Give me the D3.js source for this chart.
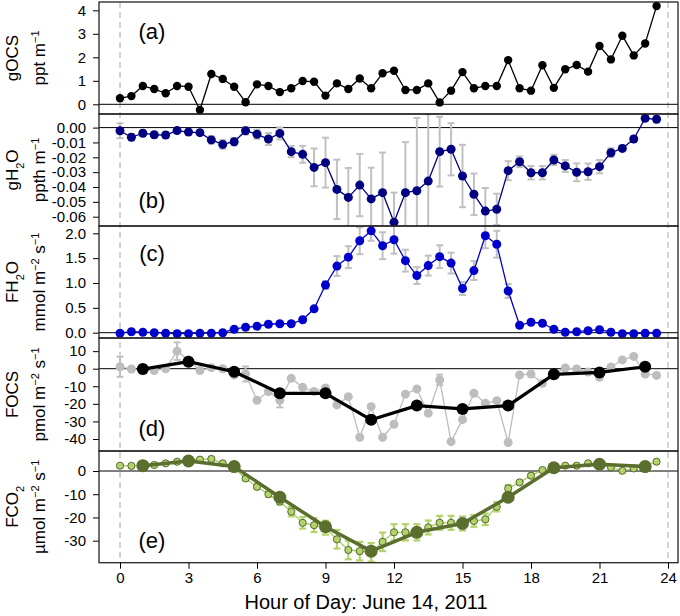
<!DOCTYPE html>
<html>
<head>
<meta charset="utf-8">
<script src="https://cdn.jsdelivr.net/npm/d3@7"></script>
<style>
  body { margin: 0; background: #fff; }
  text { font-family: "Liberation Sans", Arial, sans-serif; }
</style>
</head>
<body>
<div id="chart"></div>
<script>
// half-hourly time stamps and hourly (odd hour) stamps
var halfHours = d3.range(48).map(function (i) { return i / 2; });
var oddHours = [1, 3, 5, 7, 9, 11, 13, 15, 17, 19, 21, 23];
var hourTicks = [0, 3, 6, 9, 12, 15, 18, 21, 24];

// (a) gOCS, ppt m-1
var gOCS = [0.26, 0.35, 0.78, 0.65, 0.47, 0.78, 0.75, -0.24, 1.29, 1.08,
  0.75, 0.09, 0.85, 0.78, 0.52, 0.68, 0.99, 0.96, 0.37, 0.89,
  0.65, 1.10, 0.68, 1.32, 1.43, 0.61, 0.61, 0.89, 0.08, 0.58,
  1.37, 0.68, 0.78, 0.78, 1.88, 0.68, 0.58, 1.66, 0.70, 1.49,
  1.67, 1.39, 2.48, 1.91, 2.92, 2.08, 2.59, 4.18];

// (b) gH2O, ppth m-1, with error half-widths
var gH2O = [-0.0021, -0.0065, -0.0038, -0.0048, -0.0050, -0.0020, -0.0030, -0.0034, -0.0083, -0.0113,
  -0.0095, -0.0021, -0.0045, -0.0077, -0.0039, -0.0162, -0.0180, -0.0268, -0.0236, -0.0416,
  -0.0470, -0.0387, -0.0480, -0.0438, -0.0638, -0.0438, -0.0425, -0.0360, -0.0162, -0.0146,
  -0.0326, -0.0449, -0.0562, -0.0550, -0.0290, -0.0230, -0.0304, -0.0304, -0.0218, -0.0258,
  -0.0301, -0.0297, -0.0263, -0.0169, -0.0140, -0.0077, 0.0063, 0.0056];
var gH2Oerr = [0.005, 0.002, 0.002, 0.002, 0.002, 0.001, 0.001, 0.001, 0.0025, 0.003,
  0.0025, 0.0025, 0.003, 0.004, 0.004, 0.0037, 0.0057, 0.0127, 0.0168, 0.020,
  0.0198, 0.021, 0.021, 0.027, 0.020, 0.034, 0.049, 0.045, 0.0235, 0.0176,
  0.021, 0.014, 0.0155, 0.0105, 0.0064, 0.0036, 0.0045, 0.0045, 0.0035, 0.004,
  0.006, 0.0055, 0.0045, 0.003, 0.002, 0.002, 0.0015, 0.002];

// (c) FH2O, mmol m-2 s-1
var fH2O = [-0.01, 0.02, 0.01, 0.00, -0.01, -0.02, -0.02, -0.01, -0.01, 0.00,
  0.07, 0.11, 0.13, 0.17, 0.18, 0.18, 0.26, 0.48, 0.96, 1.34,
  1.52, 1.85, 2.05, 1.75, 1.87, 1.45, 1.15, 1.35, 1.53, 1.40,
  0.89, 1.25, 1.95, 1.78, 0.84, 0.15, 0.21, 0.19, 0.07, 0.01,
  0.02, 0.04, 0.06, 0.01, -0.02, -0.02, -0.01, -0.01];
var fH2Oerr = [0, 0, 0, 0, 0, 0, 0, 0, 0, 0,
  0.01, 0.01, 0.01, 0.01, 0.01, 0.01, 0.02, 0.04, 0.08, 0.2,
  0.22, 0.27, 0.2, 0.27, 0.28, 0.22, 0.17, 0.2, 0.23, 0.21,
  0.13, 0.19, 0.25, 0.27, 0.14, 0.03, 0.03, 0.03, 0.01, 0.01,
  0.01, 0.01, 0.01, 0.01, 0.01, 0.01, 0.01, 0.01];

// (d) FOCS, pmol m-2 s-1: half-hourly (grey) and hourly means (black)
var fOCS = [1.1, -0.2, -1.0, -1.0, 0.0, 10.0, 5.0, -1.0, 0.6, 0.0,
  -3.6, -3.0, -18.0, -13.0, -18.0, -5.5, -10.6, -13.0, -11.0, -20.6,
  -15.9, -39.0, -21.6, -39.0, -31.6, -14.5, -11.5, -25.3, -6.4, -41.5,
  -29.0, -14.0, -19.7, -18.2, -42.0, -3.6, -3.0, -8.3, -3.2, 0.4,
  -0.2, -1.9, -4.9, 1.0, 5.0, 7.0, -3.0, -3.8];
var fOCSerr = [5.7, 0, 0, 0, 0, 5, 0, 0, 0, 0,
  0, 4.3, 0, 0, 4, 0, 0, 0, 0, 0,
  0, 0, 0, 0, 0, 0, 0, 0, 3, 0,
  0, 0, 0, 0, 0, 0, 0, 0, 0, 0,
  0, 0, 0, 0, 0, 0, 0, 0];
var fOCShourly = [-0.2, 4.0, -1.7, -14.0, -14.0, -29.1, -21.0, -22.9, -21.0, -3.2, -2.1, 1.1];
var fOCShourlyErr = [2.5, 3, 1.5, 1.5, 1.5, 1.5, 1.5, 1.5, 1.5, 1.5, 1.5, 1.5];

// (e) FCO2, umol m-2 s-1: half-hourly (light) and hourly means (dark)
var fCO2 = [2.3, 2.2, 2.7, 2.6, 3.3, 4.0, 5.0, 4.9, 5.2, 3.3,
  1.2, -3.2, -6.8, -10.0, -13.2, -17.5, -22.3, -23.3, -24.4, -29.4,
  -34.0, -34.5, -35.0, -30.5, -26.4, -26.4, -26.4, -24.3, -22.3, -22.3,
  -22.6, -21.5, -20.8, -15.4, -7.5, -4.9, -2.0, 0.4, 1.4, 2.3,
  2.3, 3.3, 3.3, 1.6, 0.1, 1.1, 2.3, 4.0];
var fCO2err = [0, 0, 0, 0, 0, 0, 0, 0, 0, 0,
  0, 0.8, 1, 1, 1.2, 2, 2.5, 3, 3, 4,
  4, 4, 4, 4, 3.5, 3.5, 3.5, 3, 3, 3,
  3, 2.5, 2.5, 2, 1.5, 0, 0, 0, 0, 0,
  0, 0, 0, 0, 0, 0, 0, 0];
var fCO2hourly = [2.3, 4.3, 1.9, -11.3, -24.0, -34.5, -26.4, -22.6, -11.3, 1.4, 2.9, 1.9];

var W = 680, H = 616;
var svg = d3.select("#chart").append("svg")
    .attr("width", W).attr("height", H);

var frameL = 99, frameR = 678;
var x = d3.scaleLinear().domain([0, 24]).range([120, 668]);

// plain hyphen minus like the original
function hy(f) { return function (d) { return f(d).replace("\u2212", "-"); }; }

// panel layout (pixel frame + two reference values for the y scale)
var panels = [
  {id: "a", top: 2, bot: 114, dom: [0, 4], rng: [104.3, 10.3], ticks: [0, 1, 2, 3, 4], fmt: hy(d3.format("d")),
   lab1: [["gOCS"]], lab2: [["ppt m"], ["−1", "sup"]], tag: "(a)", tagY: 39},
  {id: "b", top: 114, bot: 226, dom: [0, -0.06], rng: [127.6, 216.7], ticks: [0, -0.01, -0.02, -0.03, -0.04, -0.05, -0.06], fmt: hy(d3.format(".2f")),
   lab1: [["gH"], ["2", "sub"], ["O"]], lab2: [["ppth m"], ["−1", "sup"]], tag: "(b)", tagY: 208},
  {id: "c", top: 226, bot: 338, dom: [0, 2], rng: [332.7, 233.3], ticks: [0, 0.5, 1, 1.5, 2], fmt: hy(d3.format(".1f")),
   lab1: [["FH"], ["2", "sub"], ["O"]], lab2: [["mmol m"], ["−2", "sup"], [" s"], ["−1", "sup"]], tag: "(c)", tagY: 261},
  {id: "d", top: 338, bot: 451, dom: [0, -40], rng: [368.7, 439], ticks: [10, 0, -10, -20, -30, -40], fmt: hy(d3.format("d")),
   lab1: [["FOCS"]], lab2: [["pmol m"], ["−2", "sup"], [" s"], ["−1", "sup"]], tag: "(d)", tagY: 436},
  {id: "e", top: 451, bot: 562.7, dom: [0, -30], rng: [471, 540.7], ticks: [0, -10, -20, -30], fmt: hy(d3.format("d")),
   lab1: [["FCO"], ["2", "sub"]], lab2: [["µmol m"], ["−2", "sup"], [" s"], ["−1", "sup"]], tag: "(e)", tagY: 548}
];
panels.forEach(function (p) {
  p.y = d3.scaleLinear().domain(p.dom).range(p.rng);
});
var P = {};
panels.forEach(function (p) { P[p.id] = p; });

// dashed guides at hour 0 and 24
svg.selectAll(".guide").data([0, 24]).enter().append("line")
    .attr("x1", function (d) { return x(d); }).attr("x2", function (d) { return x(d); })
    .attr("y1", 2).attr("y2", 562.7)
    .attr("stroke", "#a8a8a8").attr("stroke-width", 1)
    .attr("stroke-dasharray", "6,4");

panels.forEach(function (p) {
  var g = svg.append("g");
  // zero line
  g.append("line")
      .attr("x1", frameL).attr("x2", frameR)
      .attr("y1", p.y(0)).attr("y2", p.y(0))
      .attr("stroke", "#000").attr("stroke-width", 1);

  // y axis
  var ax = svg.append("g")
      .attr("transform", "translate(" + frameL + ",0)")
      .call(d3.axisLeft(p.y).tickValues(p.ticks).tickFormat(p.fmt).tickSize(6).tickPadding(7));
  ax.select(".domain").remove();
  ax.selectAll("text").attr("font-size", 15).attr("fill", "#000")
      .attr("font-family", "Liberation Sans, Arial, sans-serif");
  ax.selectAll("line").attr("stroke", "#000");

  // two-line rotated y label
  var cy = (p.top + p.bot) / 2;
  [[p.lab1, 18], [p.lab2, 45]].forEach(function (L) {
    var t = svg.append("text")
        .attr("transform", "translate(" + L[1] + "," + cy + ") rotate(-90)")
        .attr("text-anchor", "middle")
        .attr("font-size", 17);
    L[0].forEach(function (part) {
      var ts = t.append("tspan").text(part[0]);
      if (part[1] === "sup") ts.attr("font-size", 11).attr("baseline-shift", "super");
      if (part[1] === "sub") ts.attr("font-size", 11).attr("baseline-shift", "sub");
    });
  });

  // panel tag
  svg.append("text")
      .attr("x", 152).attr("y", p.tagY)
      .attr("text-anchor", "middle")
      .attr("font-size", 22)
      .text(p.tag);
});

function errorBars(p, xs, vals, errs, color, capW, sw) {
  var d = xs.map(function (h, i) { return {h: h, v: vals[i], e: errs[i]}; })
      .filter(function (o) { return o.e > 0; });
  var g = svg.append("g").attr("stroke", color).attr("stroke-width", sw);
  var clip = function (yv) { return Math.max(p.top, Math.min(p.bot, yv)); };
  g.selectAll(".v").data(d).enter().append("line")
      .attr("x1", function (o) { return x(o.h); }).attr("x2", function (o) { return x(o.h); })
      .attr("y1", function (o) { return clip(p.y(o.v + o.e)); })
      .attr("y2", function (o) { return clip(p.y(o.v - o.e)); });
  [1, -1].forEach(function (s) {
    g.selectAll(".c" + s).data(d.filter(function (o) {
        var yy = p.y(o.v + s * o.e); return yy > p.top && yy < p.bot; }))
      .enter().append("line")
      .attr("x1", function (o) { return x(o.h) - capW; }).attr("x2", function (o) { return x(o.h) + capW; })
      .attr("y1", function (o) { return p.y(o.v + s * o.e); })
      .attr("y2", function (o) { return p.y(o.v + s * o.e); });
  });
}

function series(p, xs, vals, opt) {
  var pts = xs.map(function (h, i) { return [h, vals[i]]; });
  var line = d3.line().x(function (d) { return x(d[0]); }).y(function (d) { return p.y(d[1]); });
  svg.append("path").datum(pts)
      .attr("d", line).attr("fill", "none")
      .attr("stroke", opt.line).attr("stroke-width", opt.lw)
      .attr("stroke-linejoin", "round");
  svg.append("g").selectAll("circle").data(pts).enter().append("circle")
      .attr("cx", function (d) { return x(d[0]); })
      .attr("cy", function (d) { return p.y(d[1]); })
      .attr("r", opt.r)
      .attr("fill", opt.fill)
      .attr("stroke", opt.stroke || "none")
      .attr("stroke-width", opt.sw || 0);
}

// (a)
series(P.a, halfHours, gOCS, {line: "#000", lw: 1.3, r: 4.2, fill: "#000"});

// (b)
errorBars(P.b, halfHours, gH2O, gH2Oerr, "#c0c0c0", 3.5, 2);
series(P.b, halfHours, gH2O, {line: "#000080", lw: 1.3, r: 4.5, fill: "#000080"});

// (c)
errorBars(P.c, halfHours, fH2O, fH2Oerr, "#c0c0c0", 3.5, 2);
series(P.c, halfHours, fH2O, {line: "#0000cc", lw: 1.3, r: 4.5, fill: "#0000cc"});

// (d)
errorBars(P.d, halfHours, fOCS, fOCSerr, "#c0c0c0", 3.5, 2);
series(P.d, halfHours, fOCS, {line: "#bdbdbd", lw: 1.3, r: 4.5, fill: "#bdbdbd"});
errorBars(P.d, oddHours, fOCShourly, fOCShourlyErr, "#000", 0, 2);
series(P.d, oddHours, fOCShourly, {line: "#000", lw: 3.2, r: 6, fill: "#000"});

// (e)
errorBars(P.e, halfHours, fCO2, fCO2err, "#b3d36b", 3.5, 2.2);
series(P.e, halfHours, fCO2, {line: "#a9cc66", lw: 1.3, r: 3.6, fill: "#b3d36b", stroke: "#3b4a1c", sw: 0.8});
series(P.e, oddHours, fCO2hourly, {line: "#5a6e2e", lw: 3.5, r: 6.5, fill: "#5a6e2e"});

// frames
panels.forEach(function (p) {
  svg.append("rect")
      .attr("x", frameL).attr("y", p.top)
      .attr("width", frameR - frameL).attr("height", p.bot - p.top)
      .attr("fill", "none").attr("stroke", "#222").attr("stroke-width", 1.3);
});

// x axis
var xa = svg.append("g")
    .attr("transform", "translate(0," + 562.7 + ")")
    .call(d3.axisBottom(x).tickValues(hourTicks).tickFormat(d3.format("d")).tickSize(6).tickPadding(4));
xa.select(".domain").remove();
xa.selectAll("text").attr("font-size", 15).attr("fill", "#000")
    .attr("font-family", "Liberation Sans, Arial, sans-serif");
xa.selectAll("line").attr("stroke", "#000");

svg.append("text")
    .attr("x", 366).attr("y", 609)
    .attr("text-anchor", "middle")
    .attr("font-size", 20)
    .text("Hour of Day: June 14, 2011");
</script>
</body>
</html>
